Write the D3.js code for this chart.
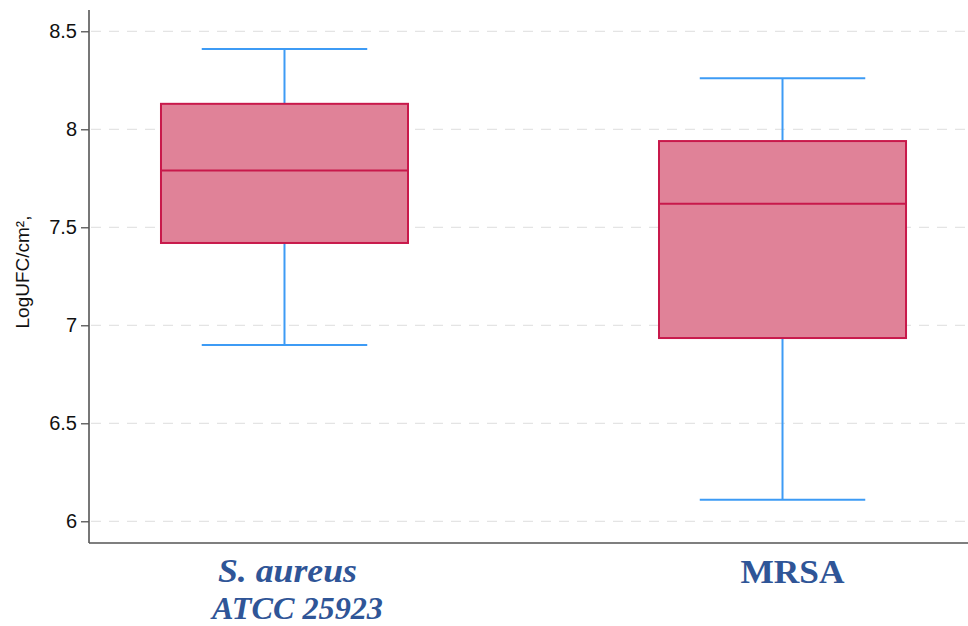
<!DOCTYPE html>
<html><head><meta charset="utf-8">
<script src="https://cdn.jsdelivr.net/npm/d3@7"></script>
<style>body{margin:0;background:#fff}</style>
</head><body>
<svg id="c" width="968" height="626"></svg>
<script>
const groups = ["S. aureus ATCC 25923", "MRSA"];
const whiskerLow = [6.90, 6.11];
const q1 = [7.42, 6.935];
const median = [7.79, 7.62];
const q3 = [8.13, 7.94];
const whiskerHigh = [8.41, 8.26];
const yTicks = [6, 6.5, 7, 7.5, 8, 8.5];

(function () {
const svg = d3.select("#c");
const pLeft = 89, pRight = 968, pTop = 10, pBottom = 543;
const y = d3.scaleLinear().domain([6, 8.5]).range([521.3, 31.3]);
const x = d3.scaleBand().domain(groups).range([pLeft + 5, pRight + 5]).paddingInner(0.504).paddingOuter(0.1345);

// grid
svg.append("g").selectAll("line").data(yTicks).join("line")
  .attr("x1", pLeft + 2).attr("x2", pRight).attr("y1", d => y(d)).attr("y2", d => y(d))
  .attr("stroke", "#e4e4e4").attr("stroke-width", 1.3).attr("stroke-dasharray", "10,8");

// y axis
const ya = svg.append("g").attr("transform", `translate(${pLeft},0)`)
  .call(d3.axisLeft(y).tickValues(yTicks).tickSize(8).tickPadding(4).tickFormat(d => d3.format("~g")(d)));
ya.select(".domain").remove();
ya.selectAll(".tick line").attr("stroke", "#444").attr("stroke-width", 1.2);
ya.selectAll(".tick text").attr("font-family", "Liberation Sans, Arial, sans-serif").attr("font-size", 20).attr("fill", "#111");
svg.append("line").attr("x1", pLeft).attr("x2", pLeft).attr("y1", pTop).attr("y2", pBottom).attr("stroke", "#555").attr("stroke-width", 1.6);
svg.append("line").attr("x1", pLeft).attr("x2", pRight).attr("y1", pBottom).attr("y2", pBottom).attr("stroke", "#555").attr("stroke-width", 1.6);

svg.append("text").attr("transform", `translate(29,272) rotate(-90)`).attr("text-anchor", "middle")
  .attr("font-family", "Liberation Sans, Arial, sans-serif").attr("font-size", 19).attr("fill", "#111")
  .text("LogUFC/cm²,");

const data = groups.map((g, i) => ({g, lo: whiskerLow[i], q1: q1[i], med: median[i], q3: q3[i], hi: whiskerHigh[i]}));
const bw = x.bandwidth();
const cx = d => x(d.g) + bw / 2;
const capW = bw * 0.67;

const gb = svg.append("g").selectAll("g").data(data).join("g");
const wc = "#3d9bf5";
gb.append("line").attr("x1", cx).attr("x2", cx).attr("y1", d => y(d.hi)).attr("y2", d => y(d.q3)).attr("stroke", wc).attr("stroke-width", 2);
gb.append("line").attr("x1", cx).attr("x2", cx).attr("y1", d => y(d.q1)).attr("y2", d => y(d.lo)).attr("stroke", wc).attr("stroke-width", 2);
gb.append("line").attr("x1", d => cx(d) - capW / 2).attr("x2", d => cx(d) + capW / 2).attr("y1", d => y(d.hi)).attr("y2", d => y(d.hi)).attr("stroke", wc).attr("stroke-width", 2);
gb.append("line").attr("x1", d => cx(d) - capW / 2).attr("x2", d => cx(d) + capW / 2).attr("y1", d => y(d.lo)).attr("y2", d => y(d.lo)).attr("stroke", wc).attr("stroke-width", 2);
gb.append("rect").attr("x", d => x(d.g)).attr("width", bw).attr("y", d => y(d.q3)).attr("height", d => y(d.q1) - y(d.q3))
  .attr("fill", "#e08298").attr("stroke", "#c8194b").attr("stroke-width", 2);
gb.append("line").attr("x1", d => x(d.g)).attr("x2", d => x(d.g) + bw).attr("y1", d => y(d.med)).attr("y2", d => y(d.med)).attr("stroke", "#c8194b").attr("stroke-width", 2);

// x labels
const lc = "#2f5597";
const serif = "Liberation Serif, Times New Roman, serif";
svg.append("text").attr("x", cx(data[0]) + 3).attr("y", 582).attr("text-anchor", "middle")
  .attr("font-family", serif).attr("font-weight", "bold").attr("font-style", "italic")
  .attr("font-size", 33).attr("fill", lc)
  .attr("textLength", 139).attr("lengthAdjust", "spacingAndGlyphs").text("S. aureus");
svg.append("text").attr("x", cx(data[0]) + 13).attr("y", 619).attr("text-anchor", "middle")
  .attr("font-family", serif).attr("font-weight", "bold").attr("font-style", "italic")
  .attr("font-size", 32).attr("fill", lc)
  .attr("textLength", 171).attr("lengthAdjust", "spacingAndGlyphs").text("ATCC 25923");
svg.append("text").attr("x", cx(data[1]) + 10).attr("y", 583).attr("text-anchor", "middle")
  .attr("font-family", serif).attr("font-weight", "bold")
  .attr("font-size", 33).attr("fill", lc)
  .attr("textLength", 104).attr("lengthAdjust", "spacingAndGlyphs").text("MRSA");
})();
</script>
</body></html>
